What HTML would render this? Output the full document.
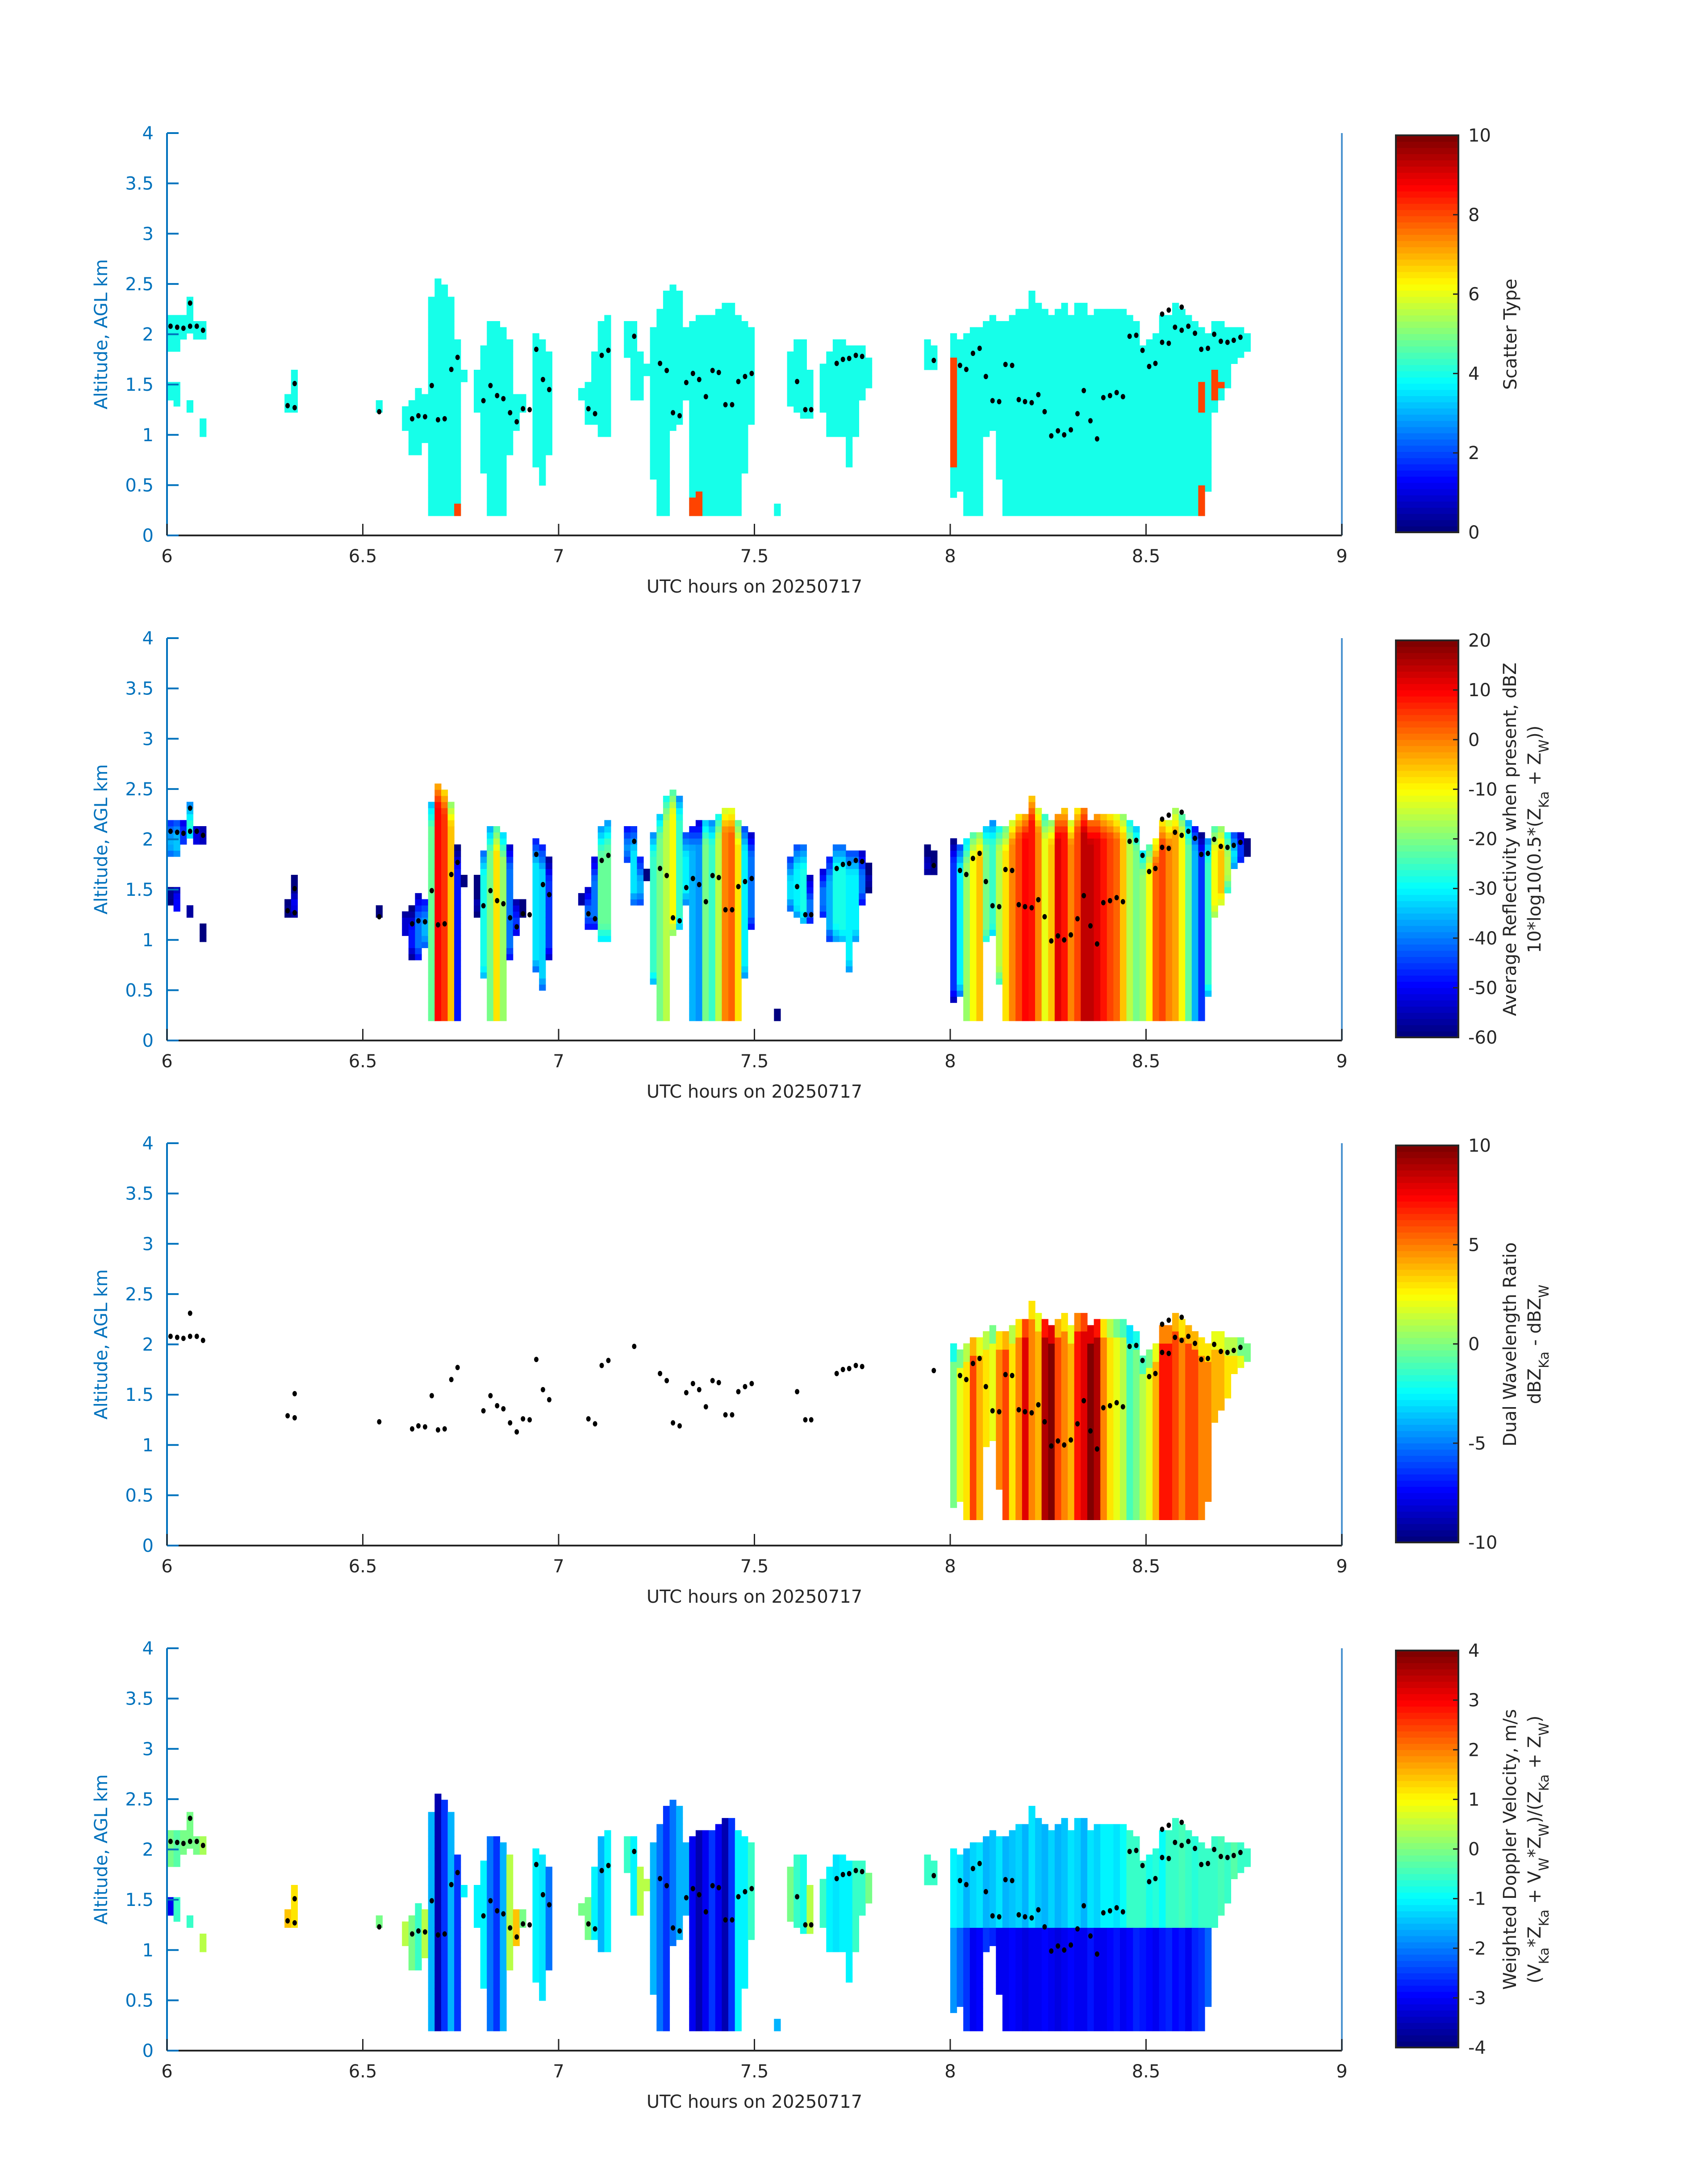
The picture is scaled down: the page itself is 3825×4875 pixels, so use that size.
<!DOCTYPE html>
<html><head><meta charset="utf-8"><title>Radar time-height panels</title>
<style>
html,body{margin:0;padding:0;background:#fff;}
svg{display:block;}
text{font-family:"DejaVu Sans","Liberation Sans",sans-serif;}
</style></head>
<body>
<svg id="fig" width="3825" height="4875" viewBox="0 0 3825 4875" xmlns="http://www.w3.org/2000/svg"></svg>
<script>
// ---- data (minute offset from 06:00 UTC, altitude km) ----
const entMinute=[0,0,1,1,2,3,3,4,5,5,18,19,32,36,37,38,39,40,41,42,43,44,45,47,48,49,50,51,52,53,54,56,57,58,63,64,65,66,67,70,71,72,73,74,75,76,77,78,79,80,81,82,83,84,85,86,87,88,89,93,95,96,97,98,100,101,102,103,104,105,106,107,116,117,
120,121,122,123,124,125,126,127,128,129,130,131,132,133,134,135,136,137,138,139,140,141,142,143,144,145,146,147,148,149,150,151,152,153,154,155,156,157,158,159,160,161,162,163,164,165];
const entBase=[1.86,1.35,1.86,1.26,1.93,2.0,1.2,1.93,1.93,0.97,1.2,1.2,1.2,1.03,0.81,0.81,0.9,0.2,0.2,0.2,0.2,0.2,1.55,1.2,0.6,0.2,0.2,0.2,0.81,1.05,1.2,0.68,0.5,0.8,1.35,1.11,1.11,1.0,1.0,1.79,1.35,1.35,1.6,0.57,0.2,0.2,1.05,1.1,1.35,0.2,0.2,0.2,0.2,0.2,0.2,0.2,0.2,0.6,1.11,0.2,1.29,1.2,1.14,1.14,1.2,1.0,1.0,0.96,0.66,0.96,1.35,1.48,1.63,1.63,
0.39,0.45,0.2,0.2,0.2,0.96,1.02,0.58,0.2,0.2,0.2,0.2,0.2,0.2,0.2,0.2,0.2,0.2,0.2,0.2,0.2,0.2,0.2,0.2,0.2,0.2,0.2,0.2,0.2,0.2,0.2,0.2,0.2,0.2,0.2,0.2,0.2,0.2,0.2,0.45,1.21,1.35,1.5,1.7,1.75,1.84];
const entTop=[2.16,1.53,2.16,1.51,2.16,2.38,1.32,2.1,2.1,1.13,1.38,1.62,1.32,1.3,1.35,1.45,1.4,2.38,2.56,2.5,2.38,1.96,1.62,1.62,1.9,2.1,2.1,2.05,1.96,1.4,1.38,1.99,1.93,1.84,1.48,1.53,1.84,2.1,2.16,2.13,2.13,1.84,1.72,2.07,2.25,2.43,2.5,2.43,2.07,2.13,2.19,2.19,2.19,2.25,2.31,2.31,2.19,2.13,2.07,0.32,1.84,1.96,1.96,1.62,1.73,1.84,1.96,1.96,1.9,1.9,1.9,1.78,1.96,1.9,
2.01,1.96,2.01,2.07,2.07,2.13,2.19,2.13,2.13,2.19,2.25,2.25,2.43,2.31,2.25,2.19,2.25,2.31,2.19,2.31,2.31,2.19,2.25,2.25,2.25,2.25,2.25,2.19,2.13,1.9,1.96,2.01,2.19,2.19,2.31,2.25,2.19,2.13,2.07,2.01,2.13,2.13,2.07,2.07,2.07,2.01];
const entDbz=[-30,-45,-28,-40,-35,-25,-40,-38,-40,-50,-45,-50,-55,-45,-48,-40,-35,-22,10,6,-5,-48,-55,-55,-28,-20,-8,-18,-40,-42,-55,-32,-33,-45,-40,-40,-40,-22,-22,-35,-32,-35,-50,-25,-20,-15,-10,-25,-30,-35,-38,-20,-25,-15,0,2,-8,-30,-40,-55,-32,-30,-28,-40,-40,-35,-28,-28,-30,-30,-40,-50,-50,-50,
-45,-30,-18,-10,-5,-20,-25,-15,-8,0,5,10,8,0,-12,-5,12,8,0,5,14,15,12,8,5,2,-5,-15,-20,-18,-10,2,5,0,-3,-10,-22,-35,-45,-25,-10,-5,-15,-30,-40,-50];
const entVelHi=[0,-3,-0.3,-0.5,0,0,-0.5,0,0.3,0.5,1.5,1.2,0,0.5,0,-0.5,0.5,-1.5,-3.5,-2.5,-1.5,-2.5,-1,-1,-1,-2,-2.5,-1.5,0.5,1.5,0,-1,-1.2,-2,0,0,-1,-1.5,-1,-0.5,-1,0.5,0.5,-1.5,-2,-2.5,-2,-1.5,-1.5,-3,-3.5,-3,-2.5,-3,-3.5,-2.5,-1,-1,-0.5,-1.5,0,-0.5,-0.8,0.5,-0.5,-1,-1.2,-1,-1,-0.5,-0.5,0,-0.5,-0.5,
-1,-1.2,-1.5,-1.3,-1.2,-1.5,-1.4,-1.2,-1.6,-1.4,-1.3,-1.5,-1.2,-1.4,-1.5,-1.3,-1.6,-1.4,-1.2,-1.3,-1.5,-1.2,-1.3,-1.1,-1,-1.2,-0.9,-0.6,-0.5,-0.6,-0.8,-0.7,-0.9,-0.6,-0.5,-0.4,-0.6,-0.7,-0.5,-0.6,-0.5,-0.4,-0.5,-0.3,-0.5,-0.6];
const entVelLo=[null,null,null,null,null,null,null,null,null,null,null,null,null,null,null,null,null,null,null,null,null,null,null,null,null,null,null,null,null,null,null,null,null,null,null,null,null,null,null,null,null,null,null,null,null,null,null,null,null,null,null,null,null,null,null,null,null,null,null,null,null,null,null,null,null,null,null,null,null,null,null,null,null,null,
-1.8,-2.2,-2.6,-3,-2.9,-2.5,-2.7,-3,-3.1,-2.9,-3,-3.2,-3,-3.1,-2.9,-3,-3.2,-3,-2.9,-3.1,-3,-2.8,-3,-3.1,-2.9,-2.8,-3,-2.9,-2.7,-2.8,-2.9,-3,-2.8,-2.7,-2.9,-2.8,-3,-2.7,-2.6,-2.2,-1,-0.5,-0.5,-0.5,-0.5,-0.6];
const dwrMinute=[120,121,122,123,124,125,126,127,128,129,130,131,132,133,134,135,136,137,138,139,140,141,142,143,144,145,146,147,148,149,150,151,152,153,154,155,156,157,158,159,160,161,162,163,164,165];
const dwrVal=[0,2,3,6,4,3,2,5,6,3,5,8,5,4,9,10,6,5,4,7,8,10,9,5,3,2,1,-1,0,1,2,4,7,7,6,5,6,6,5,5,4,4,3,3,2,2];
const redMinute=[44,80,81,120,158,158,160,161];
const redBase=[0.2,0.2,0.2,0.66,0.2,1.2,1.32,1.45];
const redTop=[0.3,0.36,0.42,1.75,0.48,1.55,1.62,1.52];
const dotTime=[6.009,6.026,6.042,6.059,6.076,6.092,6.059,6.308,6.326,6.326,6.542,6.626,6.642,6.659,6.676,6.692,6.709,6.726,6.742,6.808,6.826,6.843,6.859,6.876,6.893,6.909,6.926,6.943,6.96,6.976,7.076,7.093,7.11,7.127,7.193,7.259,7.276,7.292,7.309,7.326,7.343,7.359,7.376,7.393,7.409,7.426,7.443,7.459,7.476,7.493,7.609,7.63,7.645,7.71,7.726,7.742,7.759,7.775,7.958,8.025,8.041,8.058,8.075,8.091,8.108,8.125,8.141,8.158,8.175,8.191,8.208,8.225,8.241,8.258,8.275,8.291,8.308,8.325,8.341,8.358,8.375,8.391,8.408,8.425,8.441,8.458,8.475,8.491,8.508,8.524,8.541,8.558,8.541,8.558,8.591,8.574,8.591,8.608,8.625,8.641,8.658,8.674,8.691,8.708,8.724,8.741];
const dotKm=[2.08,2.07,2.06,2.08,2.08,2.04,2.31,1.29,1.27,1.51,1.23,1.16,1.19,1.18,1.49,1.15,1.16,1.65,1.77,1.34,1.49,1.39,1.36,1.22,1.13,1.26,1.25,1.85,1.55,1.45,1.26,1.21,1.79,1.84,1.98,1.71,1.64,1.22,1.19,1.52,1.61,1.55,1.38,1.64,1.62,1.30,1.30,1.53,1.58,1.61,1.53,1.25,1.25,1.71,1.75,1.76,1.79,1.78,1.74,1.69,1.65,1.81,1.86,1.58,1.34,1.33,1.70,1.69,1.35,1.33,1.32,1.40,1.23,0.99,1.04,1.00,1.05,1.21,1.44,1.14,0.96,1.37,1.39,1.42,1.38,1.98,1.99,1.84,1.68,1.71,1.92,1.91,2.2,2.24,2.27,2.07,2.04,2.08,2.01,1.85,1.86,2.0,1.93,1.92,1.94,1.97];
const yTicks=["0","0.5","1","1.5","2","2.5","3","3.5","4"];
const xTicks=["6","6.5","7","7.5","8","8.5","9"];
const cbTicks=[["0","2","4","6","8","10"],["-60","-50","-40","-30","-20","-10","0","10","20"],["-10","-5","0","5","10"],["-4","-3","-2","-1","0","1","2","3","4"]];
const cbRange=[[0,10],[-60,20],[-10,10],[-4,4]];
const SCATTER_BASE_TYPE=4, SCATTER_RED_TYPE=8, VEL_SPLIT_KM=1.2;

// ---- layout ----
const NS="http://www.w3.org/2000/svg";
const svg=document.getElementById('fig');
const PT=[298,1429,2560,3691], PH=901, PL=374, PW=2631, CBX=3126, CBW=140;
const DZ=0.0605, Z0=0.195;
function xs(t){return PL+(t-6)/3*PW;}
function mk(tag,attrs,parent){const e=document.createElementNS(NS,tag);for(const k in attrs)e.setAttribute(k,attrs[k]);(parent||svg).appendChild(e);return e;}
function jet(x){x=Math.max(0,Math.min(1,x));x=Math.floor(x*63.999)/63;const c=v=>Math.round(255*Math.max(0,Math.min(1,v)));
 return `rgb(${c(1.5-Math.abs(4*x-3))},${c(1.5-Math.abs(4*x-2))},${c(1.5-Math.abs(4*x-1))})`;}
function cellRows(base,top){const rows=[];for(let k=0;k<80;k++){const y0=Z0+k*DZ,yc=y0+DZ/2;if(yc>=base-0.005&&yc<=top+0.005)rows.push(y0);}return rows;}

PT.forEach((top,pi)=>{
 const ys=km=>top+PH-km/4*PH;
 const g=mk('g',{});
 
 
 const plot=mk('g',{},g);
 
 
 const [vmin,vmax]=cbRange[pi];
 const norm=v=>(v-vmin)/(vmax-vmin);
 const cw=PW/180;
 if(pi===2){
  dwrMinute.forEach((m,i)=>{
   const j=entMinute.indexOf(m);const b=Math.max(entBase[j],0.25),t=entTop[j];
   cellRows(b,t).forEach(y0=>{
    const r=mk('rect',{x:xs(6+m/60).toFixed(1),y:ys(y0+DZ).toFixed(1),width:(cw+0.6).toFixed(1),height:(DZ/4*PH+0.6).toFixed(1),fill:jet(norm(dwrVal[i]-(t-y0<0.2?2:0)))},plot);
    
    
   });
  });
 } else {
  entMinute.forEach((m,i)=>{
   const b=entBase[i],t=entTop[i];
   cellRows(b,t).forEach(y0=>{
    const yc=y0+DZ/2;let v;
    if(pi===0)v=SCATTER_BASE_TYPE;
    else if(pi===1){v=entDbz[i]-15*Math.max(0,1-(t-yc)/0.25)-(b>0.3?10*Math.max(0,1-(yc-b)/0.15):0);}
    else{v=(entVelLo[i]!==null&&yc<VEL_SPLIT_KM)?entVelLo[i]:entVelHi[i];}
    const r=mk('rect',{x:xs(6+m/60).toFixed(1),y:ys(y0+DZ).toFixed(1),width:(cw+0.6).toFixed(1),height:(DZ/4*PH+0.6).toFixed(1),fill:jet(norm(v))},plot);
    
    
   });
  });
  if(pi===0){
   redMinute.forEach((m,i)=>{
    cellRows(redBase[i],redTop[i]).forEach(y0=>{
     const r=mk('rect',{x:xs(6+m/60).toFixed(1),y:ys(y0+DZ).toFixed(1),width:(cw+0.6).toFixed(1),height:(DZ/4*PH+0.6).toFixed(1),fill:jet(norm(SCATTER_RED_TYPE))},plot);
     
     
    });
   });
  }
 }
 // dots
 const dg=mk('g',{},g);
 
 
 dotTime.forEach((t,i)=>{
  const c=mk('ellipse',{cx:xs(t).toFixed(1),cy:ys(dotKm[i]).toFixed(1),rx:5,ry:6,fill:'#000'},dg);
  
  
 });
 // axes
 const ax=mk('g',{},g);
 
 
 mk('line',{x1:PL,y1:top+PH,x2:PL+PW,y2:top+PH,stroke:'#262626','stroke-width':4},ax);
 mk('line',{x1:PL,y1:top,x2:PL,y2:top+PH,stroke:'#0072BD','stroke-width':4},ax);
 mk('line',{x1:PL+PW,y1:top,x2:PL+PW,y2:top+PH,stroke:'#4d94d0','stroke-width':4},ax);
 yTicks.forEach((lab,k)=>{
  const y=ys(k*0.5);
  mk('line',{x1:PL,y1:y,x2:PL+26,y2:y,stroke:'#0072BD','stroke-width':4},ax);
  const tx=mk('text',{x:PL-30,y:y+14,'text-anchor':'end','font-size':40,fill:'#0072BD'},ax);tx.textContent=lab;
  
  
 });
 xTicks.forEach((lab,k)=>{
  const x=xs(6+k*0.5);
  mk('line',{x1:x,y1:top+PH,x2:x,y2:top+PH-26,stroke:'#262626','stroke-width':3},ax);
  const tx=mk('text',{x:x,y:top+PH+60,'text-anchor':'middle','font-size':40,fill:'#262626'},ax);tx.textContent=lab;
  
  
 });
 const xl=mk('text',{x:PL+PW/2,y:top+PH+128,'text-anchor':'middle','font-size':40,fill:'#262626'},ax);xl.textContent='UTC hours on 20250717';
 
 
 const yl=mk('text',{x:0,y:0,'text-anchor':'middle','font-size':40,fill:'#0072BD',transform:`translate(240,${top+PH/2}) rotate(-90)`},ax);yl.textContent='Altitude, AGL km';
 
 
 // colorbar
 const cb=mk('g',{},g);
 
 
 const cbT=top+5,cbH=889;
 for(let k=0;k<64;k++){mk('rect',{x:CBX,y:(cbT+cbH-(k+1)*cbH/64).toFixed(2),width:CBW,height:(cbH/64+0.6).toFixed(2),fill:jet(k/63)},cb);}
 mk('rect',{x:CBX,y:cbT,width:CBW,height:cbH,fill:'none',stroke:'#262626','stroke-width':4},cb);
 const ticks=cbTicks[pi];
 ticks.forEach((lab,k)=>{
  const y=cbT+cbH-k/(ticks.length-1)*cbH;
  mk('line',{x1:CBX+CBW-12,y1:y,x2:CBX+CBW,y2:y,stroke:'#262626','stroke-width':3},cb);
  const tx=mk('text',{x:CBX+CBW+22,y:y+14,'font-size':40,fill:'#262626'},cb);tx.textContent=lab;
  
  
 });
});
// colorbar titles
function cbTitle(pi,x,html,name){
 const t=document.createElementNS(NS,'text');
 t.setAttribute('x',0);t.setAttribute('y',0);t.setAttribute('text-anchor','middle');t.setAttribute('font-size','40');t.setAttribute('fill','#262626');
 t.setAttribute('transform',`translate(${x},${PT[pi]+PH/2}) rotate(-90)`);
 t.innerHTML=html;
 
 
 svg.appendChild(t);
}
const S=(s)=>`<tspan baseline-shift="sub" font-size="30">${s}</tspan>`;
cbTitle(0,3396,'Scatter Type','colorbar-title-scatter-type');
cbTitle(1,3395,'Average Reflectivity when present, dBZ','colorbar-title-reflectivity');
cbTitle(1,3450,`10*log10(0.5*(Z${S('Ka')} + Z${S('W')}))`,'colorbar-subtitle-reflectivity');
cbTitle(2,3395,'Dual Wavelength Ratio','colorbar-title-dwr');
cbTitle(2,3450,`dBZ${S('Ka')} - dBZ${S('W')}`,'colorbar-subtitle-dwr');
cbTitle(3,3395,'Weighted Doppler Velocity, m/s','colorbar-title-velocity');
cbTitle(3,3450,`(V${S('Ka')}*Z${S('Ka')} + V${S('W')}*Z${S('W')})/(Z${S('Ka')} + Z${S('W')})`,'colorbar-subtitle-velocity');
</script>
</body></html>
